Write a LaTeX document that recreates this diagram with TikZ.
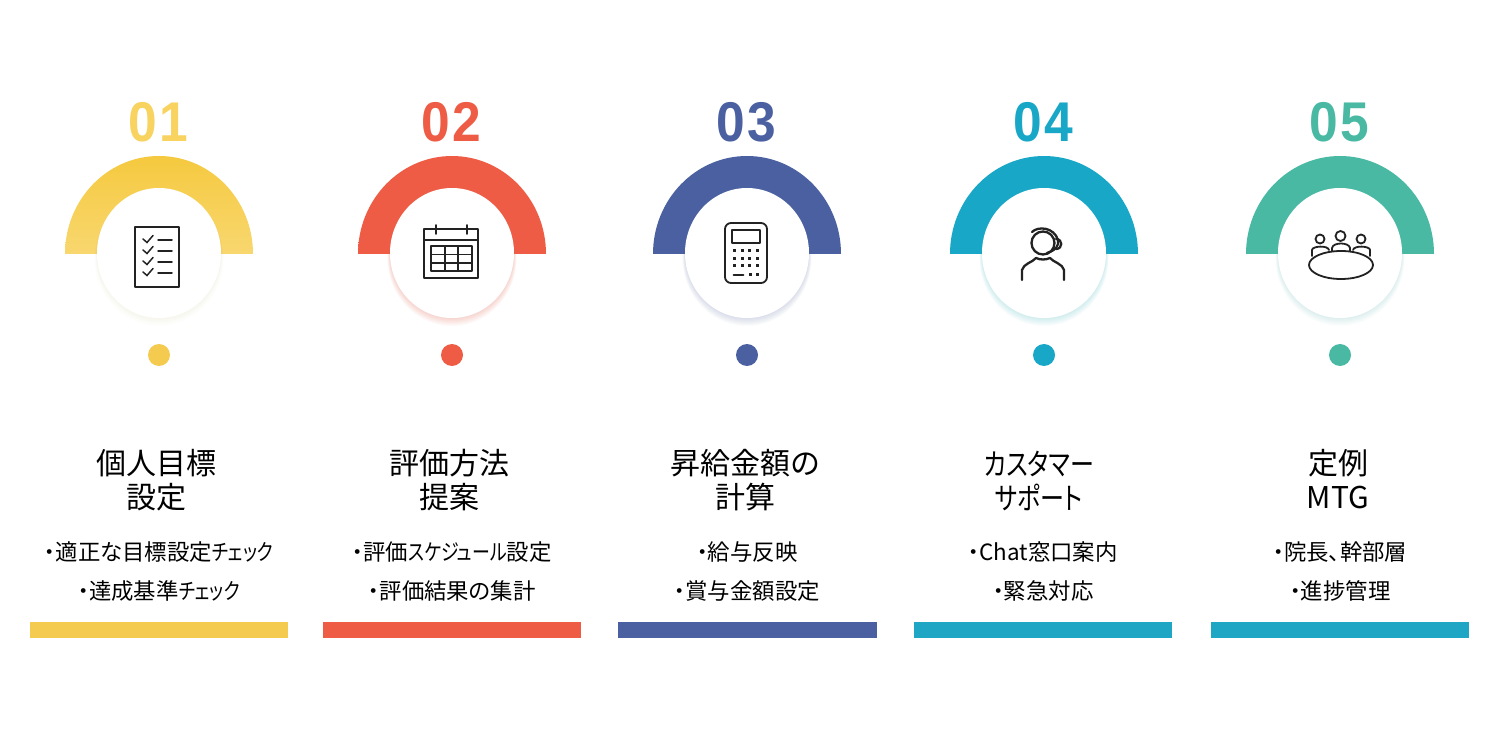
\documentclass[tikz,border=0pt]{standalone}
\usepackage{fontspec}
\newfontfamily\jp[RawFeature=+palt]{Noto Sans CJK JP}
\newfontfamily\kn[RawFeature=+palt,FakeStretch=0.8]{Noto Sans CJK JP}
\newfontfamily\numfont[BoldFont=Liberation Sans Bold,BoldFeatures={FakeStretch=0.92,LetterSpace=4}]{Liberation Sans}
\definecolor{cy}{HTML}{F5CB4F}
\definecolor{cyt}{HTML}{F5C93F}
\definecolor{cyb}{HTML}{F8D76F}
\definecolor{cyn}{HTML}{F8D35F}
\definecolor{cr}{HTML}{EE5C45}
\definecolor{cb}{HTML}{4A60A1}
\definecolor{ct}{HTML}{19A7C7}
\definecolor{cg}{HTML}{49B9A4}
\definecolor{cbt}{HTML}{1FA6C4}
\definecolor{ink}{HTML}{222222}
\tikzset{
  numlabel/.style={font=\numfont\bfseries\fontsize{28}{28}\selectfont},
  titlelabel/.style={font=\jp\fontsize{15}{17}\selectfont,text=black,align=center,inner sep=0pt},
  sublabel/.style={font=\jp\fontsize{11.2}{13}\selectfont,text=black,inner sep=0pt},
  iconline/.style={draw=ink,line width=0.9pt,line cap=round,line join=round},
  iconheavy/.style={draw=ink,line width=1.15pt,line cap=round,line join=round},
  iconthin/.style={draw=ink,line width=0.75pt,line cap=round},
  icondot/.style={fill=ink,draw=none},
}
% #1 centre x, #2 colour, #3 arc top, #4 arc bottom, #5 number colour, #6 number, #7 shadow strength, #8 id
\newcommand{\stepdial}[8]{%
  \node[numlabel,text=#5] (num#8) at (#1-1,122) {#6};
  \shade[top color=#3,bottom color=#4] (#1-94,254) arc[start angle=180,end angle=360,x radius=94,y radius=98] -- cycle;
  \foreach \k in {1,...,8}{
    \fill[#2,opacity=#7] (#1,253+\k*0.7) ellipse [x radius=62+\k*0.3,y radius=65+\k*0.3];
  }
  \fill[white] (#1,253) ellipse [x radius=62,y radius=65];
  \fill[#2] (#1,355) circle (11);
}
\begin{document}
\begin{tikzpicture}[x=0.5pt,y=-0.5pt]
\useasboundingbox (0,0) rectangle (1500,754);
\fill[white] (0,0) rectangle (1500,754);

\stepdial{159}{cy}{cyt}{cyb}{cyn}{01}{0.008}{a}
\stepdial{452}{cr}{cr}{cr}{cr}{02}{0.03}{b}
\stepdial{747}{cb}{cb}{cb}{cb}{03}{0.025}{c}
\stepdial{1044}{ct}{ct}{ct}{ct}{04}{0.025}{d}
\stepdial{1340}{cg}{cg}{cg}{cg}{05}{0.018}{e}

% icon 1: checklist
\draw[iconline] (135,227) rectangle (179,287);
\foreach \y in {240,251,262,273}{
  \draw[iconthin] (143,\y-1) -- (147,\y+2.5) -- (153,\y-4.5);
  \draw[iconthin] (158,\y) -- (172,\y);
}

% icon 2: calendar
\draw[iconline] (424,229) rectangle (478,278);
\draw[iconline] (424,240) -- (478,240);
\draw[iconline] (436,225) -- (436,234);
\draw[iconline] (467,225) -- (467,234);
\draw[iconline] (431,246) rectangle (472,271);
\draw[iconline] (445,246) -- (445,271);
\draw[iconline] (458,246) -- (458,271);
\draw[iconline] (431,254.5) -- (472,254.5);
\draw[iconline] (431,263) -- (472,263);

% icon 3: calculator
\draw[iconline,rounded corners=3pt] (725,223) rectangle (767,283);
\draw[iconline] (732,230) rectangle (760,243);
\foreach \x in {734,742,749.5,757.5}{
  \foreach \y in {251,258.5,266}{
    \fill[icondot] (\x-1.5,\y-1.5) rectangle (\x+1.5,\y+1.5);
  }
}
\draw[iconline] (733.5,275) -- (743.5,275);
\fill[icondot] (748.5,273.5) rectangle (751.5,276.5);
\fill[icondot] (756,273.5) rectangle (759,276.5);

% icon 4: headset person
\draw[iconheavy] (1043,243) circle (11.5);
\draw[iconheavy] (1022,280) -- (1022,270) .. controls (1023,264) and (1033,262) .. (1036,258) .. controls (1040,260) and (1046,260) .. (1050,258) .. controls (1053,262) and (1063,264) .. (1064,270) -- (1064,280);
\draw[iconheavy] (1032,232) .. controls (1038,226) and (1054,227) .. (1058,240) .. controls (1059,246) and (1056,250) .. (1047,253);
\draw[iconheavy] (1056,239) .. controls (1063,239) and (1063,249) .. (1056,249);

% icon 5: meeting table
\draw[iconline] (1320,239) circle (4.5);
\draw[iconline] (1340.5,236) circle (5);
\draw[iconline] (1361,239) circle (4.5);
\draw[iconline] (1312,256) -- (1312,250) .. controls (1312,246) and (1328,245) .. (1329,250);
\draw[iconline] (1332,251) -- (1332,248) .. controls (1333,242) and (1349,242) .. (1350,248) -- (1350,251);
\draw[iconline] (1353,250) .. controls (1354,245) and (1370,246) .. (1370,250) -- (1370,256);
\draw[iconline,fill=white] (1341,265) ellipse [x radius=32,y radius=14];

% titles
\node[titlelabel] (ta) at (156,480.5) {個人目標\\設定};
\node[titlelabel] (tb) at (449,480.5) {評価方法\\提案};
\node[titlelabel] (tc) at (745,480.5) {昇給金額の\\計算};
\node[titlelabel] (td) at (1039,480.5) {{\kn カスタマー}\\{\kn サポート}};
\node[titlelabel] (te) at (1338,479.5) {定例\\MTG};

% sub lines
\node[sublabel] (sa1) at (159,552) {・適正な目標設定{\kn チェック}};
\node[sublabel] (sa2) at (159,591) {・達成基準{\kn チェック}};
\node[sublabel] (sb1) at (452,552) {・評価{\kn スケジュール}設定};
\node[sublabel] (sb2) at (452,591) {・評価結果の集計};
\node[sublabel] (sc1) at (747,552) {・給与反映};
\node[sublabel] (sc2) at (747,591) {・賞与金額設定};
\node[sublabel] (sd1) at (1043,552) {・Chat窓口案内};
\node[sublabel] (sd2) at (1043,591) {・緊急対応};
\node[sublabel] (se1) at (1340,552) {・院長、幹部層};
\node[sublabel] (se2) at (1340,591) {・進捗管理};

% bars
\fill[cy] (30,622) rectangle (288,638);
\fill[cr] (323,622) rectangle (581,638);
\fill[cb] (618,622) rectangle (877,638);
\fill[cbt] (914,622) rectangle (1172,638);
\fill[cbt] (1211,622) rectangle (1469,638);
\end{tikzpicture}
\end{document}
